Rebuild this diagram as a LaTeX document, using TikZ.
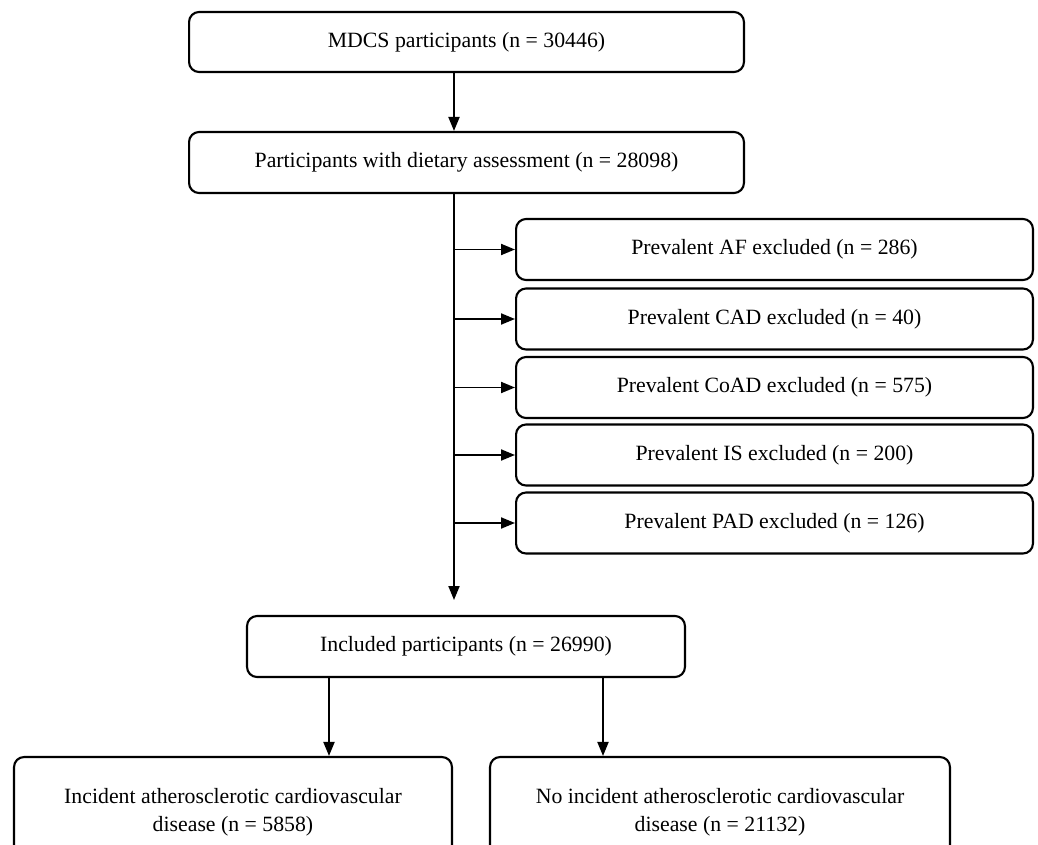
\documentclass[tikz,border=0pt]{standalone}
\usepackage{fontspec}
\setmainfont{Liberation Serif}
\usetikzlibrary{arrows.meta}

\begin{document}
\begin{tikzpicture}[x=0.02cm, y=-0.02cm,
  box/.style={draw, line width=1.2pt, rounded corners=0.2cm, align=center, inner sep=0pt,
    font=\fontsize{12.4}{15.8}\selectfont},
  sidebox/.style={box, minimum width=10.34cm, minimum height=1.22cm},
  arr/.style={line width=1.1pt, -{Triangle[length=0.28cm, width=0.22cm]}}]
  \clip (0,0) rectangle (1038,845);
  \node[box, minimum width=11.1cm, minimum height=1.2cm] (mdcs) at (466.5,42) {MDCS participants (n = 30446)};
  \node[box, minimum width=11.1cm, minimum height=1.22cm] (diet) at (466.5,162.5) {Participants with dietary assessment (n = 28098)};
  \node[sidebox] (af) at (774.5,249.5) {Prevalent AF excluded (n = 286)};
  \node[sidebox] (cad) at (774.5,319) {Prevalent CAD excluded (n = 40)};
  \node[sidebox] (coad) at (774.5,387.5) {Prevalent CoAD excluded (n = 575)};
  \node[sidebox] (is) at (774.5,455) {Prevalent IS excluded (n = 200)};
  \node[sidebox] (pad) at (774.5,523) {Prevalent PAD excluded (n = 126)};
  \node[box, minimum width=8.76cm, minimum height=1.22cm] (incl) at (466,646.5) {Included participants (n = 26990)};
  \node[box, minimum width=8.76cm, minimum height=2.2cm] (inc) at (233,812) {Incident atherosclerotic cardiovascular\\disease (n = 5858)}; % runs off the page
  \node[box, minimum width=9.2cm, minimum height=2.2cm] (noinc) at (720,812) {No incident atherosclerotic cardiovascular\\disease (n = 21132)};

  \coordinate (trunk) at (454,0); % main line
  \coordinate (trunkend) at (454,600);
  \coordinate (lft) at (329,0);
  \coordinate (rgt) at (603,0);

  \draw[arr] (mdcs.south -| trunk) -- (diet.north -| trunk);
  \draw[arr] (diet.south -| trunk) -- (trunkend);
  \draw[arr] (af.west -| trunk) -- (af.west); % exclusions
  \draw[arr] (cad.west -| trunk) -- (cad.west);
  \draw[arr] (coad.west -| trunk) -- (coad.west);
  \draw[arr] (is.west -| trunk) -- (is.west);
  \draw[arr] (pad.west -| trunk) -- (pad.west);
  \draw[arr] (incl.south -| lft) -- (inc.north -| lft); % outcomes
  \draw[arr] (incl.south -| rgt) -- (noinc.north -| rgt);
\end{tikzpicture}
\end{document}
